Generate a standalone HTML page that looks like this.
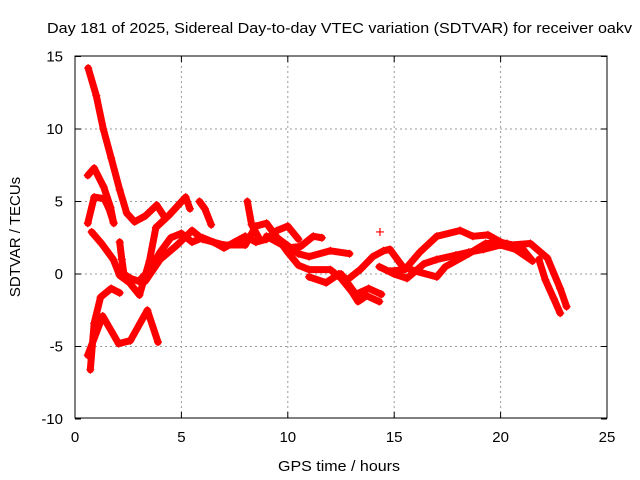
<!DOCTYPE html>
<html><head><meta charset="utf-8"><style>
body{margin:0;background:#fff}
svg{display:block;font-family:"Liberation Sans",sans-serif}
</style></head><body>
<svg id="chart" width="640" height="480">
<rect width="640" height="480" fill="#fff"/>
<g id="grid"></g>
<g id="series"></g>
<rect x="75" y="56" width="532" height="362" fill="none" stroke="#000" stroke-width="1"/>
<g id="ticks"></g>
<text x="47" y="33" font-size="15" textLength="585" lengthAdjust="spacingAndGlyphs">Day 181 of 2025, Sidereal Day-to-day VTEC variation (SDTVAR) for receiver oakv</text>
<text x="278" y="471" font-size="15" textLength="122" lengthAdjust="spacingAndGlyphs">GPS time / hours</text>
<text transform="translate(20,237) rotate(-90)" font-size="15" text-anchor="middle">SDTVAR / TECUs</text>
</svg>
<script>
const xTicks=[0,5,10,15,20,25];
const yTicks=[15,10,5,0,-5,-10];
const s1h=[0.62,1.0,1.33,1.7,2.1,2.43,2.8,3.3,3.84,4.2];
const s1v=[14.2,12.3,10.0,8.0,5.8,4.2,3.6,4.0,4.75,3.95];
const s2h=[0.6,0.9,1.35,1.67,1.82];
const s2v=[6.8,7.3,6.0,4.6,3.5];
const s3h=[0.6,0.9,1.37,1.6,1.8];
const s3v=[3.5,5.3,5.2,4.5,3.6];
const s4h=[0.78,1.25,1.8,2.1,2.56,3.03,3.5,3.8,4.45,5.2,5.4];
const s4v=[2.9,2.1,1.0,-0.1,-0.6,-1.45,0.9,3.2,4.1,5.3,4.5];
const s5h=[2.1,2.2,2.3,2.6,3.0,3.5,4.0,4.5,5.0,5.5,6.0,6.5,7.0,7.5,8.0,8.5,9.0,9.5,10.0,10.5];
const s5v=[2.2,1.0,0.0,-0.3,-0.5,0.3,1.5,2.5,2.8,2.2,2.5,2.2,1.8,2.2,2.6,2.2,2.4,3.0,3.3,2.4];
const s6h=[3.3,4.0,4.8,5.5,6.0,7.0,8.0,8.5,9.0,9.5,10.0,10.5,11.0,12.0,12.5,13.0,13.3,13.7,14.3];
const s6v=[-0.5,1.0,2.0,3.0,2.4,2.0,2.0,3.3,3.5,2.5,1.5,0.6,0.3,0.3,-0.3,-1.2,-1.9,-1.5,-1.9];
const s7h=[5.85,6.1,6.4];
const s7v=[5.0,4.5,3.4];
const s8h=[8.1,8.3,8.6];
const s8v=[5.0,3.4,2.6];
const s9h=[9.0,10.0,10.6,11.2,11.6];
const s9v=[2.6,1.8,1.9,2.6,2.5];
const s10h=[9.5,10.5,11.0,12.0,12.9];
const s10v=[2.5,1.4,1.2,1.6,1.4];
const s11h=[11.0,11.8,12.4,12.8,13.4,14.0,14.5,14.8,15.4,16.0,17.0,17.4,18.5,19.3,20.3,21.0,21.5];
const s11v=[-0.2,-0.6,0.0,-0.4,0.3,1.2,1.6,1.7,0.5,0.2,-0.2,0.5,1.4,2.1,2.1,1.8,0.9];
const s12h=[12.5,13.2,13.8,14.4];
const s12v=[0.0,-1.4,-1.0,-1.4];
const s13h=[14.3,15.0,15.6,16.4,17.0,17.9,18.5,19.2,20.0,20.7,21.5];
const s13v=[0.5,0.0,-0.3,0.7,1.0,1.3,1.5,1.7,2.0,1.7,0.9];
const s14h=[14.8,15.5,16.2,17.0,18.1,18.7,19.4,20.0,20.5,21.4,22.2,22.8,23.1];
const s14v=[0.2,0.3,1.5,2.6,3.0,2.6,2.7,2.2,2.0,2.1,1.1,-1.0,-2.25];
const s15h=[21.8,22.1,22.5,22.8];
const s15v=[1.0,-0.4,-1.7,-2.7];
const s16h=[0.72,0.9,1.2,1.7,2.1];
const s16v=[-6.6,-3.4,-1.6,-1.0,-1.3];
const s17h=[0.6,1.3,2.05,2.6,3.4,3.9];
const s17v=[-5.6,-2.9,-4.8,-4.6,-2.5,-4.7];
const s18h=[14.33];
const s18v=[2.9];
const allSeries=[[s1h,s1v],[s2h,s2v],[s3h,s3v],[s4h,s4v],[s5h,s5v],[s6h,s6v],[s7h,s7v],[s8h,s8v],[s9h,s9v],[s10h,s10v],[s11h,s11v],[s12h,s12v],[s13h,s13v],[s14h,s14v],[s15h,s15v],[s16h,s16v],[s17h,s17v],[s18h,s18v]];

const NS="http://www.w3.org/2000/svg";
const X=h=>75+h*532/25;
const Y=v=>274-v*14.5;
const grid=document.getElementById('grid'),ticks=document.getElementById('ticks'),ser=document.getElementById('series');
function mk(tag,attrs,parent){const e=document.createElementNS(NS,tag);for(const k in attrs)e.setAttribute(k,attrs[k]);parent.appendChild(e);return e;}
xTicks.forEach(t=>{
  const x=X(t);
  if(t>0&&t<25){const g=mk('line',{x1:x,x2:x,y1:56,y2:418,stroke:'#999','stroke-dasharray':'2,3'},grid);
  
  }
  mk('line',{x1:x,x2:x,y1:418,y2:412,stroke:'#000'},ticks);
  mk('line',{x1:x,x2:x,y1:56,y2:62,stroke:'#000'},ticks);
  const l=mk('text',{x:x,y:442,'font-size':15,'text-anchor':'middle'},ticks);l.textContent=t;
  
  
});
yTicks.forEach(t=>{
  const y=Y(t);
  if(t<15&&t>-10){const g=mk('line',{x1:75,x2:607,y1:y,y2:y,stroke:'#999','stroke-dasharray':'2,3'},grid);
  
  }
  mk('line',{x1:75,x2:81,y1:y,y2:y,stroke:'#000'},ticks);
  mk('line',{x1:607,x2:601,y1:y,y2:y,stroke:'#000'},ticks);
  const l=mk('text',{x:63,y:y+5,'font-size':15,'text-anchor':'end'},ticks);l.textContent=t;
  
  
});
allSeries.forEach((s,i)=>{
  const pts=s[0].map((h,j)=>X(h)+','+Y(s[1][j])).join(' ');
  if(s[0].length>1){const p=mk('polyline',{points:pts,fill:'none',stroke:'#f00','stroke-width':7,'stroke-linejoin':'round','stroke-linecap':'round'},ser);
  
  }
  s[0].forEach((h,j)=>{
    const x=X(h),y=Y(s[1][j]);
    const m=mk('path',{d:`M${x-4},${y}H${x+4}M${x},${y-4}V${y+4}`,stroke:'#f00','stroke-width':1.2},ser);
    
    
  });
});
</script>
</body></html>
